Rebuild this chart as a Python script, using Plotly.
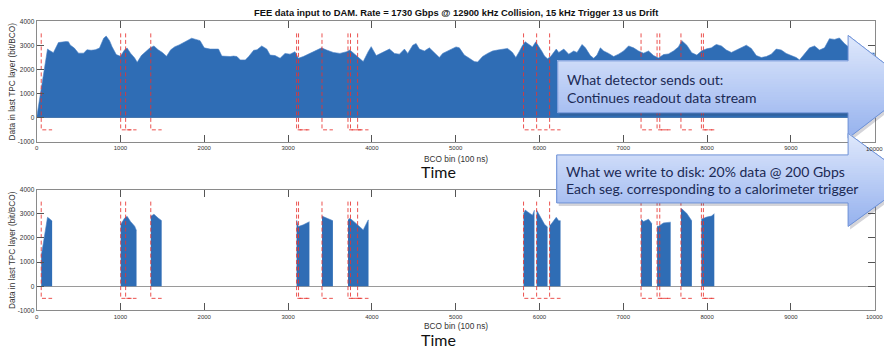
import numpy as np
import plotly.graph_objects as go

# ---- data -------------------------------------------------------------
# BCO bin positions and data rate in the last TPC layer (bit/BCO)
bco_bin = [
    0, 55, 130, 150, 200, 260, 300, 350, 380, 400, 450, 500, 560, 600, 650, 700,
    750, 800, 830, 870, 900, 950, 1000, 1050, 1080, 1120, 1170, 1200, 1250, 1300,
    1350, 1400, 1450, 1500, 1550, 1600, 1650, 1700, 1750, 1800, 1850, 1900, 1950,
    2000, 2030, 2070, 2120, 2170, 2210, 2260, 2310, 2350, 2390, 2430, 2490, 2530,
    2590, 2630, 2686, 2746, 2786, 2845, 2905, 2964, 3024, 3083, 3123, 3182, 3262,
    3341, 3400, 3460, 3540, 3619, 3698, 3738, 3798, 3857, 3897, 3956, 3992, 4052,
    4111, 4171, 4210, 4270, 4329, 4389, 4428, 4488, 4528, 4567, 4627, 4686, 4746,
    4805, 4845, 4905, 4964, 5004, 5044, 5103, 5163, 5222, 5262, 5321, 5381, 5440,
    5500, 5559, 5619, 5678, 5718, 5758, 5797, 5830, 5857, 5916, 5956, 5996, 6030,
    6060, 6096, 6131, 6200, 6230, 6290, 6349, 6409, 6448, 6508, 6548, 6607, 6647,
    6686, 6726, 6766, 6825, 6885, 6944, 7004, 7063, 7123, 7182, 7242, 7301, 7361,
    7420, 7480, 7539, 7599, 7658, 7698, 7758, 7817, 7877, 7936, 7996, 8052, 8090,
    8111, 8171, 8230, 8290, 8349, 8409, 8468, 8528, 8587, 8647, 8706, 8766, 8825,
    8885, 8944, 9004, 9063, 9103, 9163, 9222, 9282, 9341, 9401, 9460, 9520, 9579,
    9639, 9700, 9780, 9850, 9900, 9960, 10000,
]
data_rate = [
    0, 1250, 2850, 2800, 2700, 3120, 3150, 3160, 3150, 3020, 2890, 2680, 2680, 2820,
    2800, 2820, 2890, 3300, 3390, 3200, 2950, 2620, 2550, 2820, 2890, 2680, 2480,
    2300, 2580, 2750, 2890, 2980, 2820, 2710, 2550, 2820, 2950, 3020, 3120, 3200,
    3300, 3250, 3200, 2900, 2880, 2850, 2850, 2850, 2560, 2540, 2540, 2560, 2540,
    2400, 2400, 2540, 2800, 2820, 2980, 2850, 2600, 2580, 2470, 2670, 2640, 2740,
    2470, 2540, 2670, 2810, 2900, 2810, 2710, 2670, 2740, 2810, 2640, 2470, 2330,
    2740, 2950, 2580, 2670, 2770, 2850, 2670, 2640, 2850, 2670, 3010, 3080, 2850,
    2770, 2900, 2710, 2500, 2670, 2770, 2850, 2940, 2900, 2600, 2470, 2330, 2310,
    2540, 2670, 2770, 2810, 2850, 2875, 2710, 2500, 2740, 3000, 3150, 3080, 2940,
    3150, 2950, 2750, 2560, 2450, 2530, 2850, 2710, 2850, 2640, 2770, 2710, 3040,
    2900, 2580, 2470, 2600, 2900, 2770, 2670, 2540, 2640, 2770, 2980, 2900, 2770,
    2680, 2770, 2580, 2480, 2620, 2650, 2770, 2940, 3200, 3010, 2700, 2600, 2780,
    2860, 2900, 3000, 3040, 2980, 2810, 2710, 2810, 2940, 3010, 2875, 2580, 2500,
    2540, 2640, 2850, 2810, 2670, 2580, 2500, 2400, 2670, 2900, 2980, 2810, 2900,
    3280, 3250, 3310, 3080, 2900, 2800, 2750, 2670, 2700, 2690,
]
# calorimeter trigger times (BCO bin)
trigger_bins = [55, 1003, 1062, 1362, 3102, 3125, 3405, 3715, 3745, 3830,
                5810, 5966, 6121, 7212, 7403, 7435, 7688, 7932, 7956]
drift_bins = 130            # 13 us drift window
x_ticks = list(range(0, 10001, 1000))
x_tick_text = [str(v) for v in x_ticks]
y_ticks = list(range(-1000, 4001, 1000))
y_tick_text = [str(v) for v in y_ticks]

title_text = ("FEE data input to DAM. Rate = 1730 Gbps @ 12900 kHz Collision, "
              "15 kHz Trigger 13 us Drift")

# ---- styling ----------------------------------------------------------
W, H = 884, 350
FILL = "#2f6db5"
EDGE = "#4a82c6"
TRIG = "rgba(232,52,48,0.85)"
AX = "#8a8a8a"
TXT = "#333333"
NAVY = "#1b2a55"
X0, X1 = 34.7, 874.7          # plot-area left/right edge in pixels


def px(x):
    return x / W


def py(y):
    return 1 - y / H


bins = np.array(bco_bin, dtype=float)
vals = np.array(data_rate, dtype=float)

fig = go.Figure()

# top: continuous readout stream
fig.add_trace(go.Scatter(x=bins, y=vals, mode="lines", fill="tozeroy",
                         fillcolor=FILL, line=dict(color=EDGE, width=0.6),
                         xaxis="x", yaxis="y", showlegend=False, hoverinfo="skip"))

# bottom: only the triggered drift windows are kept
windows = []
for t in sorted(trigger_bins):
    a, b = t, t + drift_bins
    if windows and a <= windows[-1][1]:
        windows[-1][1] = max(windows[-1][1], b)
    else:
        windows.append([a, b])


def nearest(v):
    return vals[int(np.argmin(np.abs(bins - v)))]


for a, b in windows:
    inside = (bins > a) & (bins < b)
    xs = [a] + list(bins[inside]) + [b]
    ys = [nearest(a)] + list(vals[inside]) + [nearest(b)]
    fig.add_trace(go.Scatter(x=xs, y=ys, mode="lines", fill="tozeroy",
                             fillcolor=FILL, line=dict(color=EDGE, width=0.6),
                             xaxis="x2", yaxis="y2", showlegend=False,
                             hoverinfo="skip"))

# trigger markers: dashed line at the trigger, bracket along the drift window
tx, ty = [], []
for t in trigger_bins:
    tx += [t, t, t + drift_bins, None]
    ty += [3500, -500, -500, None]
for xa, ya in (("x", "y"), ("x2", "y2")):
    fig.add_trace(go.Scatter(x=tx, y=ty, mode="lines",
                             line=dict(color=TRIG, width=1, dash="4px,2.5px"),
                             xaxis=xa, yaxis=ya, showlegend=False,
                             hoverinfo="skip"))

# the last x label sits on the page edge, so it is placed as an annotation
axis_tick_text = x_tick_text[:-1] + [""]

axis_common = dict(showline=True, linecolor=AX, linewidth=1, mirror="ticks",
                   ticks="inside", ticklen=7, tickcolor="#555", tickwidth=1,
                   showgrid=False)
xdom = [px(X0), px(X1)]
xcommon = dict(domain=xdom, range=[0, 10000], tickmode="array",
               tickvals=x_ticks, ticktext=axis_tick_text,
               tickfont=dict(family="Liberation Sans", size=6, color=TXT),
               **axis_common)
ycommon = dict(range=[-1000, 4000], tickmode="array", tickvals=y_ticks,
               ticktext=y_tick_text, zeroline=True, zerolinecolor="#9a9a9a",
               zerolinewidth=1,
               tickfont=dict(family="Liberation Sans", size=6.5, color=TXT),
               **axis_common)
fig.update_layout(
    width=W, height=H, margin=dict(l=0, r=0, t=0, b=0),
    paper_bgcolor="white", plot_bgcolor="white",
    xaxis=dict(anchor="y", **xcommon),
    yaxis=dict(domain=[py(140.7), py(17.7)], anchor="x", **ycommon),
    xaxis2=dict(anchor="y2", **xcommon),
    yaxis2=dict(domain=[py(312.7), py(189.3)], anchor="x2", **ycommon),
)

ann = []


def text(x, y, s, size, color=TXT, family="Liberation Sans", xanchor="center",
         angle=0):
    ann.append(dict(x=px(x), y=py(y), xref="paper", yref="paper", text=s,
                    showarrow=False, xanchor=xanchor, yanchor="middle",
                    textangle=angle, borderpad=0,
                    font=dict(family=family, size=size, color=color)))


text(455, 9, "<b>" + title_text + "</b>", 9.4, color="#111")
text(455, 158, "BCO bin (100 ns)", 8.3)
text(455, 329, "BCO bin (100 ns)", 8.3)
text(10, 79, "Data in last TPC layer (bit/BCO)", 8.3, angle=-90)
text(10, 251, "Data in last TPC layer (bit/BCO)", 8.3, angle=-90)
text(437, 171, "Time", 16, color="#111", family="Lato")
text(437, 342, "Time", 16, color="#111", family="Lato")
# last x tick label of each panel, kept inside the page
text(883.5, 147.5, x_tick_text[-1], 6, xanchor="right")
text(883.5, 319.5, x_tick_text[-1], 6, xanchor="right")

# ---- callout arrows ---------------------------------------------------
shapes = []


def to_path(pts, dx=0.0, dy=0.0):
    return "M " + " L ".join(f"{px(x + dx):.5f},{py(y + dy):.5f}"
                             for x, y in pts) + " Z"


def clip_above(pts, ycut):
    # keep the part of the polygon with y <= ycut (screen pixels, y down)
    out = []
    n = len(pts)
    for i in range(n):
        p, q = pts[i], pts[(i + 1) % n]
        pin, qin = p[1] <= ycut, q[1] <= ycut
        if pin:
            out.append(p)
        if pin != qin:
            f = (ycut - p[1]) / (q[1] - p[1])
            out.append((p[0] + f * (q[0] - p[0]), ycut))
    return out


def add_arrow(L, st, sb, hx, ht, hb, tip, c_top, c_bot, n=40):
    tyc = (ht + hb) / 2
    pts = [(L, st), (hx, st), (hx, ht), (tip, tyc), (hx, hb), (hx, sb), (L, sb)]
    # soft drop shadow
    shapes.append(dict(type="path", xref="paper", yref="paper", layer="above",
                       path=to_path(pts, 2, 3),
                       fillcolor="rgba(60,60,80,0.22)", line=dict(width=0)))
    # vertical gradient: nested top-clipped copies, darkest (full) first
    levels = np.linspace(hb, ht, n + 1)[:-1]
    for yk in levels:
        f = (yk - ht) / (hb - ht)
        col = tuple(int(round(c_top[k] + (c_bot[k] - c_top[k]) * f))
                    for k in range(3))
        poly = clip_above(pts, yk)
        if len(poly) >= 3:
            shapes.append(dict(type="path", xref="paper", yref="paper",
                               layer="above", path=to_path(poly),
                               fillcolor=f"rgb{col}", line=dict(width=0)))
    shapes.append(dict(type="path", xref="paper", yref="paper", layer="above",
                       path=to_path(pts), fillcolor="rgba(0,0,0,0)",
                       line=dict(color="#6f92d6", width=1)))


add_arrow(557, 58, 111, 848, 32, 137, 915, (224, 233, 252), (150, 178, 238))
add_arrow(556, 154, 203, 848, 132, 227, 912, (224, 233, 252), (150, 178, 238))

text(565, 77, "What detector sends out:", 14, color=NAVY, family="Lato",
     xanchor="left")
text(565, 95, "Continues readout data stream", 14, color=NAVY, family="Lato",
     xanchor="left")
text(564, 171, "What we write to disk: 20% data @ 200 Gbps", 14, color=NAVY,
     family="Lato", xanchor="left")
text(564, 188.5, "Each seg. corresponding to a calorimeter trigger", 14,
     color=NAVY, family="Lato", xanchor="left")

fig.update_layout(shapes=shapes, annotations=ann)
fig.write_html("out.html")
